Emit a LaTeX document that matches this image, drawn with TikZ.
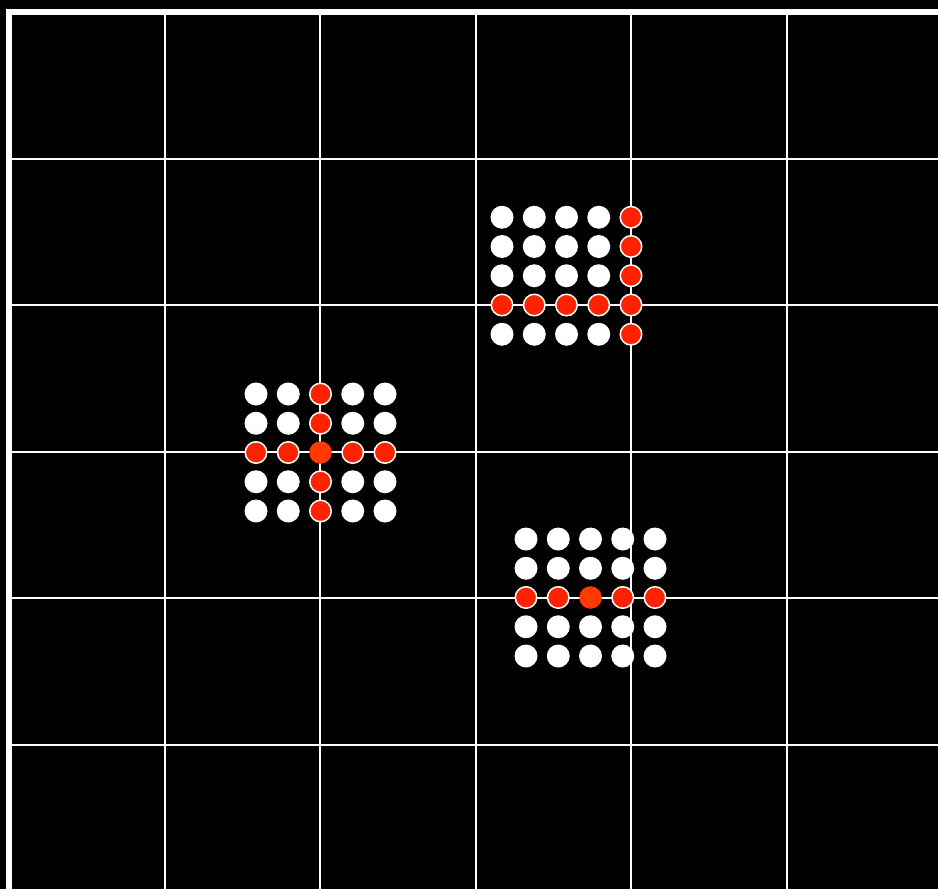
\documentclass[tikz,border=0pt]{standalone}
\usepackage{tikz}
\definecolor{hotred}{RGB}{255,34,0}
\definecolor{corered}{RGB}{255,58,0}

\begin{document}
\begin{tikzpicture}[
  x=1pt, y=-1pt,
  cold/.style={circle, fill=white, minimum size=23pt, inner sep=0pt},
  hot/.style={circle, fill=hotred, draw=white, line width=1.5pt, minimum size=21.5pt, inner sep=0pt},
  core/.style={circle, fill=corered, minimum size=22.5pt, inner sep=0pt},
  grid line/.style={white, line width=2pt},
  frame line/.style={white, line width=6pt}
]
\useasboundingbox (0,0) rectangle (938,889);
\fill[black] (0,0) rectangle (938,889);
\clip (0,0) rectangle (938,889);

% white dots of the three patches
\foreach \i in {1,...,5} \foreach \j in {1,...,5} {
  \ifnum\i=3 \else \ifnum\j=3 \else
    \node[cold] (a-\i-\j) at ({256+32.25*(\i-1)},{394+29.25*(\j-1)}) {};
  \fi\fi
  \ifnum\i=5 \else \ifnum\j=4 \else
    \node[cold] (b-\i-\j) at ({502+32.25*(\i-1)},{217.25+29.25*(\j-1)}) {};
  \fi\fi
  \ifnum\j=3 \else
    \node[cold] (c-\i-\j) at ({526+32.25*(\i-1)},{539+29.25*(\j-1)}) {};
  \fi
}

% grid and frame
\foreach \gx in {1,...,5}
  \draw[grid line] ({9+155.5*\gx},12) -- ({9+155.5*\gx},889);
\foreach \gy in {1,...,5}
  \draw[grid line] (12,{12+146.6*\gy}) -- (938,{12+146.6*\gy});
\draw[frame line] (9,889) -- (9,12) -- (938,12);

% red dots
\foreach \k in {1,2,4,5} {
  \node[hot] (a-3-\k) at (320.5,{394+29.25*(\k-1)}) {};
  \node[hot] (a-\k-3) at ({256+32.25*(\k-1)},452.5) {};
  \node[hot] (c-\k-3) at ({526+32.25*(\k-1)},597.5) {};
}
\foreach \k in {1,...,5}
  \node[hot] (b-5-\k) at (631,{217.25+29.25*(\k-1)}) {};
\foreach \k in {1,...,4}
  \node[hot] (b-\k-4) at ({502+32.25*(\k-1)},305) {};
\node[core] (a-3-3) at (320.5,452.5) {};
\node[core] (c-3-3) at (590.5,597.5) {};
\end{tikzpicture}
\end{document}
